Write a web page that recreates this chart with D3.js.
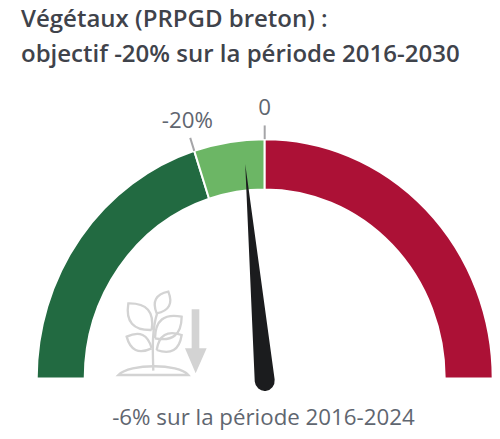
<!DOCTYPE html>
<html>
<head>
<meta charset="utf-8">
<script src="https://cdn.jsdelivr.net/npm/d3@7"></script>
<style>
  html, body { margin: 0; padding: 0; background: #fff; }
  text { font-family: "Open Sans", "Noto Sans", sans-serif; }
</style>
</head>
<body>
<div id="chart"></div>
<script>
const titleLines = ["Végétaux (PRPGD breton) :", "objectif -20% sur la période 2016-2030"];
const caption = "-6% sur la période 2016-2024";

// gauge scale: percent change, left end to right end
const gaugeDomain = [-100, 100];
const bandStarts = [-100, -20, 0];
const bandEnds = [-20, 0, 100];
const bandColors = ["#226a41", "#6cb665", "#ac1136"];
const tickValues = [-20, 0];
const tickLabels = ["-20%", "0"];
const needleValue = -6;

// plant icon: leaf base and tip, in icon units
const leafBases = [[170, 100], [155, 150], [165, 175], [155, 205], [170, 210]];
const leafTips = [[205, 35], [85, 70], [245, 110], [80, 170], [245, 165]];

const width = 500;
const height = 439;
const cx = 264.7;
const cy = 378.5;
const outerR = 228;
const innerR = 180;
const stretchY = 1.05;

const svg = d3.select("#chart")
  .append("svg")
  .attr("width", width)
  .attr("height", height);

svg.selectAll(".title")
  .data(titleLines)
  .enter()
  .append("text")
  .attr("class", "title")
  .attr("x", 21)
  .attr("y", (d, i) => 27 + i * 35)
  .style("font-size", "24px")
  .style("font-weight", 600)
  .style("fill", "#3f434b")
  .text(d => d);

const angle = d3.scaleLinear()
  .domain(gaugeDomain)
  .range([-Math.PI / 2, Math.PI / 2]);

const arc = d3.arc()
  .innerRadius(innerR)
  .outerRadius(outerR);

// the picture is a little taller than wide, so the arc is stretched
const gauge = svg.append("g")
  .attr("transform", `translate(${cx}, ${cy}) scale(1, ${stretchY})`);

gauge.selectAll(".band")
  .data(bandStarts)
  .enter()
  .append("path")
  .attr("class", "band")
  .attr("d", (d, i) => arc({ startAngle: angle(d), endAngle: angle(bandEnds[i]) }))
  .style("fill", (d, i) => bandColors[i])
  .style("stroke", "#fff")
  .style("stroke-width", 2);

const polar = (v, r) => [r * Math.sin(angle(v)), -r * Math.cos(angle(v))];

gauge.selectAll(".tick")
  .data(tickValues)
  .enter()
  .append("line")
  .attr("class", "tick")
  .attr("x1", d => polar(d, outerR)[0])
  .attr("y1", d => polar(d, outerR)[1])
  .attr("x2", d => polar(d, outerR + 13)[0])
  .attr("y2", d => polar(d, outerR + 13)[1])
  .style("stroke", "#a5a5a8")
  .style("stroke-width", 2);

gauge.selectAll(".tick-label")
  .data(tickValues)
  .enter()
  .append("text")
  .attr("class", "tick-label")
  .attr("transform", d => {
    const p = polar(d, outerR + 22.5);
    return `translate(${p[0]}, ${p[1]}) scale(1, ${1 / stretchY})`;
  })
  .attr("text-anchor", "middle")
  .style("font-size", "22.3px")
  .style("fill", "#5f6670")
  .text((d, i) => tickLabels[i]);

// plant icon
const icon = svg.append("g")
  .attr("transform", "translate(100, 280) scale(0.3333)")
  .style("fill", "none")
  .style("stroke", "#d3d3d3")
  .style("stroke-width", 7);

const leafPath = (b, t) => {
  const mx = (b[0] + t[0]) / 2;
  const my = (b[1] + t[1]) / 2;
  const nx = (t[1] - b[1]) * 0.6;
  const ny = (b[0] - t[0]) * 0.6;
  return `M${b[0]},${b[1]}Q${mx + nx},${my + ny} ${t[0]},${t[1]}Q${mx - nx},${my - ny} ${b[0]},${b[1]}`;
};

icon.selectAll(".leaf")
  .data(leafBases)
  .enter()
  .append("path")
  .attr("class", "leaf")
  .attr("d", (d, i) => leafPath(d, leafTips[i]));

icon.append("path").attr("d", "M160,272C158,210 155,150 172,98");
icon.append("path").attr("d", "M55,285H265C235,250 90,250 55,285Z");

icon.append("path")
  .attr("d", "M275,88H298V205H320L287,280L255,205H275Z")
  .style("fill", "#d3d3d3")
  .style("stroke", "none");

// needle, a little below the arc's base line
const needleLen = 207;
const hubR = 10;
const a = angle(needleValue);
const tip = polar(needleValue, needleLen);
const needle = d3.path();
needle.moveTo(tip[0], tip[1]);
needle.lineTo(hubR * Math.cos(a), hubR * Math.sin(a));
needle.arc(0, 0, hubR, a, a + Math.PI, false);
needle.closePath();

svg.append("path")
  .attr("transform", `translate(${cx}, ${cy + 2}) scale(1, ${stretchY})`)
  .attr("d", needle.toString())
  .style("fill", "#1b1c1e");

svg.append("text")
  .attr("x", 263.5)
  .attr("y", 425)
  .attr("text-anchor", "middle")
  .style("font-size", "22.3px")
  .style("fill", "#5f6670")
  .text(caption);
</script>
</body>
</html>
